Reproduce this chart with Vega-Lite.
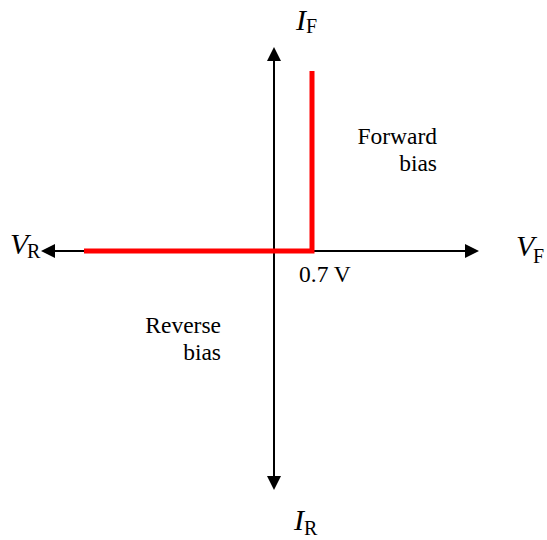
{
  "$schema": "https://vega.github.io/schema/vega-lite/v6.json",
  "width": 547,
  "height": 540,
  "padding": 0,
  "autosize": {"type": "fit", "contains": "padding"},
  "background": "white",
  "config": {"view": {"stroke": null}},
  "datasets": {
    "axes": [
      {"x": -226, "y": 0, "x2": 198, "y2": 0},
      {"x": 0, "y": 198, "x2": 0, "y2": -232}
    ],
    "curve": [
      {"v": -190, "i": 0, "o": 1},
      {"v": 38, "i": 0, "o": 2},
      {"v": 38, "i": 180, "o": 3}
    ],
    "heads": [
      {"x": 205, "y": 0, "dir": "right"},
      {"x": -233, "y": 0, "dir": "left"},
      {"x": 0, "y": 204, "dir": "up"},
      {"x": 0, "y": -239, "dir": "down"}
    ],
    "mains": [
      {"t": "I", "x": 22, "y": 221},
      {"t": "V", "x": -264, "y": -3},
      {"t": "V", "x": 242, "y": -5},
      {"t": "I", "x": 20, "y": -279}
    ],
    "subs": [
      {"t": "F", "x": 32, "y": 218},
      {"t": "R", "x": -247, "y": -7},
      {"t": "F", "x": 259, "y": -12},
      {"t": "R", "x": 30, "y": -284}
    ],
    "notesLeft": [
      {"t": "0.7 V", "x": 25, "y": -31}
    ],
    "notesRight": [
      {"t": "Forward", "x": 163, "y": 107},
      {"t": "bias", "x": 163, "y": 80},
      {"t": "Reverse", "x": -53, "y": -82},
      {"t": "bias", "x": -53, "y": -109}
    ]
  },
  "layer": [
    {
      "data": {"name": "axes"},
      "mark": {"type": "rule", "color": "black", "strokeWidth": 2},
      "encoding": {
        "x": {"field": "x", "type": "quantitative", "scale": {"domain": [-274, 273], "nice": false, "zero": false}, "axis": null},
        "y": {"field": "y", "type": "quantitative", "scale": {"domain": [-289, 251], "nice": false, "zero": false}, "axis": null},
        "x2": {"field": "x2"},
        "y2": {"field": "y2"}
      }
    },
    {
      "data": {"name": "curve"},
      "mark": {"type": "line", "color": "#ff0000", "strokeWidth": 5, "strokeJoin": "miter", "strokeCap": "butt"},
      "encoding": {
        "x": {"field": "v", "type": "quantitative"},
        "y": {"field": "i", "type": "quantitative"},
        "order": {"field": "o", "type": "quantitative"}
      }
    },
    {
      "data": {"name": "heads"},
      "mark": {"type": "point", "filled": true, "color": "black", "opacity": 1, "size": 196},
      "encoding": {
        "x": {"field": "x", "type": "quantitative"},
        "y": {"field": "y", "type": "quantitative"},
        "shape": {
          "field": "dir",
          "type": "nominal",
          "legend": null,
          "scale": {
            "domain": ["right", "left", "up", "down"],
            "range": ["M0,0L-2,-1L-2,1Z", "M0,0L2,-1L2,1Z", "M0,0L-1,2L1,2Z", "M0,0L-1,-2L1,-2Z"]
          }
        }
      }
    },
    {
      "data": {"name": "mains"},
      "mark": {"type": "text", "font": "'Liberation Serif', 'DejaVu Serif', serif", "fontStyle": "italic", "fontSize": 30, "align": "left", "baseline": "alphabetic", "color": "black"},
      "encoding": {
        "x": {"field": "x", "type": "quantitative"},
        "y": {"field": "y", "type": "quantitative"},
        "text": {"field": "t"}
      }
    },
    {
      "data": {"name": "subs"},
      "mark": {"type": "text", "font": "'Liberation Serif', 'DejaVu Serif', serif", "fontSize": 20, "align": "left", "baseline": "alphabetic", "color": "black"},
      "encoding": {
        "x": {"field": "x", "type": "quantitative"},
        "y": {"field": "y", "type": "quantitative"},
        "text": {"field": "t"}
      }
    },
    {
      "data": {"name": "notesLeft"},
      "mark": {"type": "text", "font": "'Liberation Serif', 'DejaVu Serif', serif", "fontSize": 23.5, "align": "left", "baseline": "alphabetic", "color": "black"},
      "encoding": {
        "x": {"field": "x", "type": "quantitative"},
        "y": {"field": "y", "type": "quantitative"},
        "text": {"field": "t"}
      }
    },
    {
      "data": {"name": "notesRight"},
      "mark": {"type": "text", "font": "'Liberation Serif', 'DejaVu Serif', serif", "fontSize": 23.5, "align": "right", "baseline": "alphabetic", "color": "black"},
      "encoding": {
        "x": {"field": "x", "type": "quantitative"},
        "y": {"field": "y", "type": "quantitative"},
        "text": {"field": "t"}
      }
    }
  ]
}
